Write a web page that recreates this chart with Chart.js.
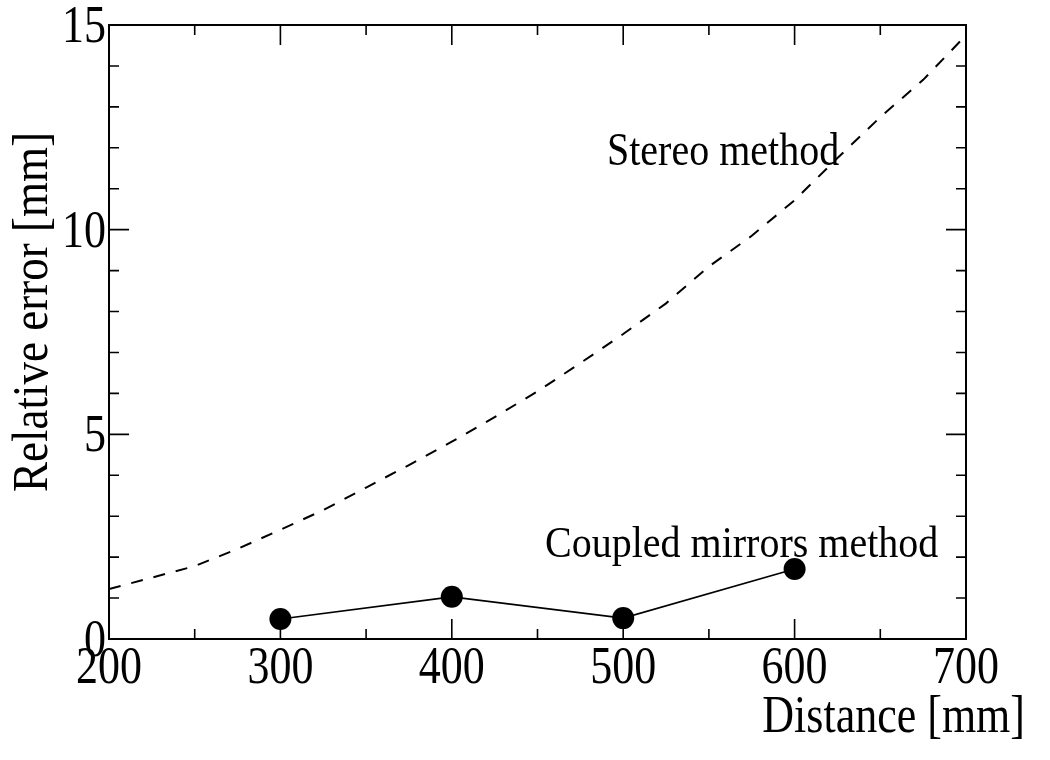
<!DOCTYPE html>
<html>
<head>
<meta charset="utf-8">
<script src="https://cdn.jsdelivr.net/npm/chart.js@4/dist/chart.umd.min.js"></script>
<style>
  html, body { margin: 0; padding: 0; background: #fff; }
  #wrap { width: 1050px; height: 760px; }
</style>
</head>
<body>
<div id="wrap"><canvas id="chart" width="1050" height="760"></canvas></div>
<script>
// distance [mm] vs relative error [mm]
const stereoX = [200, 225, 250, 275, 300, 325, 350, 375, 400, 425, 450, 475, 500, 525, 550, 575, 600, 625, 650, 675, 700]
const stereoY = [1.22, 1.5, 1.78, 2.2, 2.67, 3.15, 3.7, 4.25, 4.82, 5.42, 6.05, 6.74, 7.45, 8.2, 9.1, 9.85, 10.72, 11.75, 12.75, 13.66, 14.75]

const coupledX = [300, 400, 500, 600]
const coupledY = [0.49, 1.03, 0.51, 1.71]

const xTickLabels = ['200', '300', '400', '500', '600', '700']
const yTickLabels = ['0', '5', '10', '15']

const FONT = '"Liberation Serif", "Times New Roman", serif'

// text is a bit taller than it is wide in the original
function tallText(ctx, txt, x, y, size, sy, align) {
    ctx.save();
    ctx.font = size + 'px ' + FONT;
    ctx.textAlign = align;
    ctx.textBaseline = 'alphabetic';
    ctx.translate(x, y);
    ctx.scale(1, sy);
    ctx.fillText(txt, 0, 0);
    ctx.restore();
}

const framePlugin = {
    id: 'frame',
    afterDraw(chart) {
        const ctx = chart.ctx;
        const a = chart.chartArea;
        const xs = chart.scales.x;
        const ys = chart.scales.y;
        ctx.save();
        ctx.strokeStyle = '#000';
        ctx.fillStyle = '#000';

        // box
        ctx.lineWidth = 2;
        ctx.strokeRect(a.left, a.top, a.right - a.left, a.bottom - a.top);

        // inward ticks, x every 50, y every 1
        ctx.lineWidth = 1.6;
        ctx.beginPath();
        for (let v = 200; v <= 700; v += 50) {
            const px = xs.getPixelForValue(v);
            const len = v % 100 === 0 ? 20 : 10;
            ctx.moveTo(px, a.bottom); ctx.lineTo(px, a.bottom - len);
            ctx.moveTo(px, a.top); ctx.lineTo(px, a.top + len);
        }
        for (let v = 0; v <= 15; v += 1) {
            const py = ys.getPixelForValue(v);
            const len = v % 5 === 0 ? 20 : 10;
            ctx.moveTo(a.left, py); ctx.lineTo(a.left + len, py);
            ctx.moveTo(a.right, py); ctx.lineTo(a.right - len, py);
        }
        ctx.stroke();

        // tick labels
        xTickLabels.forEach(t => {
            tallText(ctx, t, xs.getPixelForValue(Number(t)), a.bottom + 44, 44, 1.18, 'center');
        });
        yTickLabels.forEach(t => {
            tallText(ctx, t, a.left - 3, ys.getPixelForValue(Number(t)) + 17, 44, 1.18, 'right');
        });

        // axis titles
        tallText(ctx, 'Distance [mm]', 1025, 732, 44, 1.18, 'right');
        ctx.save();
        ctx.translate(47, 312);
        ctx.rotate(-Math.PI / 2);
        ctx.scale(1, 1.13);
        ctx.font = '45px ' + FONT;
        ctx.textAlign = 'center';
        ctx.textBaseline = 'alphabetic';
        ctx.fillText('Relative error [mm]', 0, 0);
        ctx.restore();

        // curve labels
        tallText(ctx, 'Stereo method', 607, 165, 40, 1.15, 'left');
        tallText(ctx, 'Coupled mirrors method', 545, 557, 40, 1.12, 'left');

        ctx.restore();
    }
};

new Chart(document.getElementById('chart'), {
    type: 'line',
    data: {
        datasets: [{
            label: 'Stereo method',
            data: stereoX.map((x, i) => ({ x: x, y: stereoY[i] })),
            borderColor: '#000',
            borderWidth: 2,
            borderDash: [12, 11],
            pointRadius: 0,
            tension: 0,
            fill: false
        }, {
            label: 'Coupled mirrors method',
            data: coupledX.map((x, i) => ({ x: x, y: coupledY[i] })),
            borderColor: '#000',
            borderWidth: 1.6,
            backgroundColor: '#000',
            pointRadius: 11,
            pointBackgroundColor: '#000',
            pointBorderWidth: 0,
            tension: 0,
            fill: false
        }]
    },
    options: {
        responsive: false,
        animation: false,
        layout: { padding: { top: 25, right: 84, left: 0, bottom: 0 } },
        plugins: {
            legend: { display: false },
            tooltip: { enabled: false }
        },
        scales: {
            x: {
                type: 'linear',
                min: 200,
                max: 700,
                ticks: { display: false, stepSize: 100 },
                grid: { display: false },
                border: { display: false },
                afterFit: s => { s.height = 121; }
            },
            y: {
                type: 'linear',
                min: 0,
                max: 15,
                ticks: { display: false, stepSize: 5 },
                grid: { display: false },
                border: { display: false },
                afterFit: s => { s.width = 109; }
            }
        }
    },
    plugins: [framePlugin]
});
</script>
</body>
</html>
